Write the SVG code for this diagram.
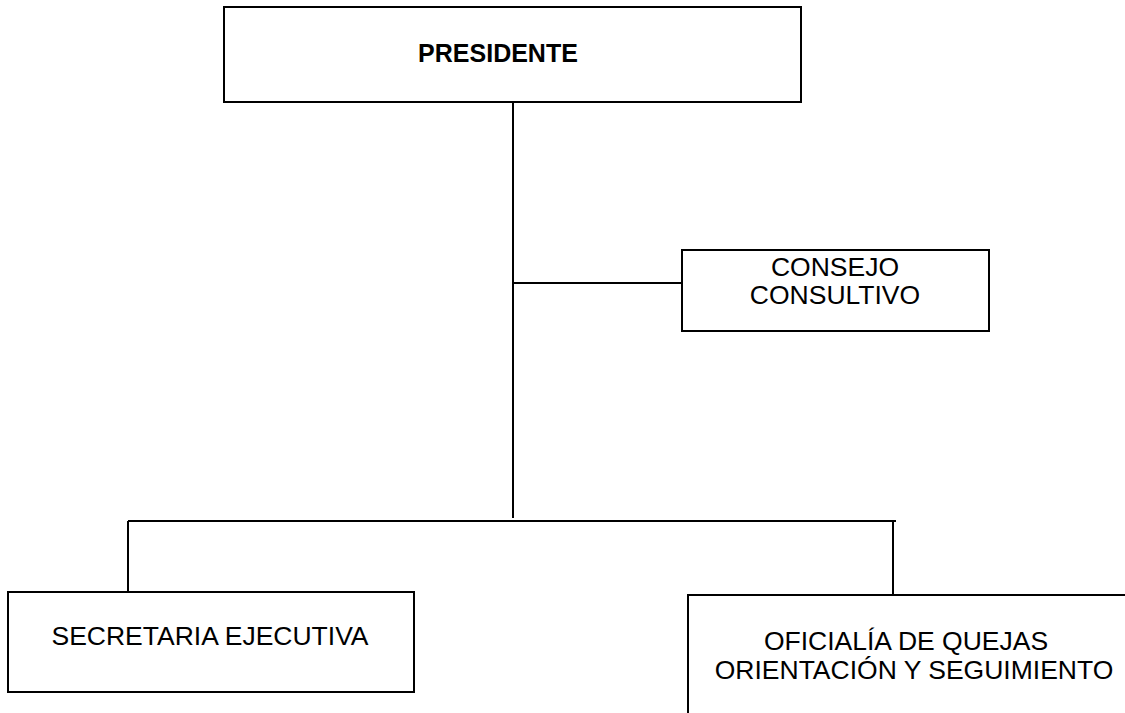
<svg xmlns="http://www.w3.org/2000/svg" width="1125" height="713" viewBox="0 0 1125 713">
<style>
.box{fill:#fff;stroke:#000;stroke-width:2}
.ln{fill:none;stroke:#000;stroke-width:2}
text{font-family:"Liberation Sans",Arial,sans-serif;font-size:26.5px;fill:#000;text-anchor:middle}
.b{font-weight:bold;font-size:25px}
</style>
<rect width="1125" height="713" fill="#fff"/>
<g id="connectors">
<path class="ln" d="M513,102 V518"/>
<path class="ln" d="M513,283 H682"/>
<path class="ln" d="M128,521 H896"/>
<path class="ln" d="M128,521 V592"/>
<path class="ln" d="M893,521 V595"/>
</g>
<g id="presidente">
<rect class="box" x="224" y="7" width="577" height="95"/>
<text class="b" x="498" y="62">PRESIDENTE</text>
</g>
<g id="consejo">
<rect class="box" x="682" y="250" width="307" height="81"/>
<text x="835" y="276">CONSEJO</text>
<text x="835" y="304">CONSULTIVO</text>
</g>
<g id="secretaria">
<rect class="box" x="8" y="592" width="406" height="100"/>
<text x="210" y="645">SECRETARIA EJECUTIVA</text>
</g>
<g id="oficialia">
<path class="ln" d="M688,713 V595 H1125"/>
<text x="906" y="650">OFICIALÍA DE QUEJAS</text>
<text x="914" y="679">ORIENTACIÓN Y SEGUIMIENTO</text>
</g>
</svg>
